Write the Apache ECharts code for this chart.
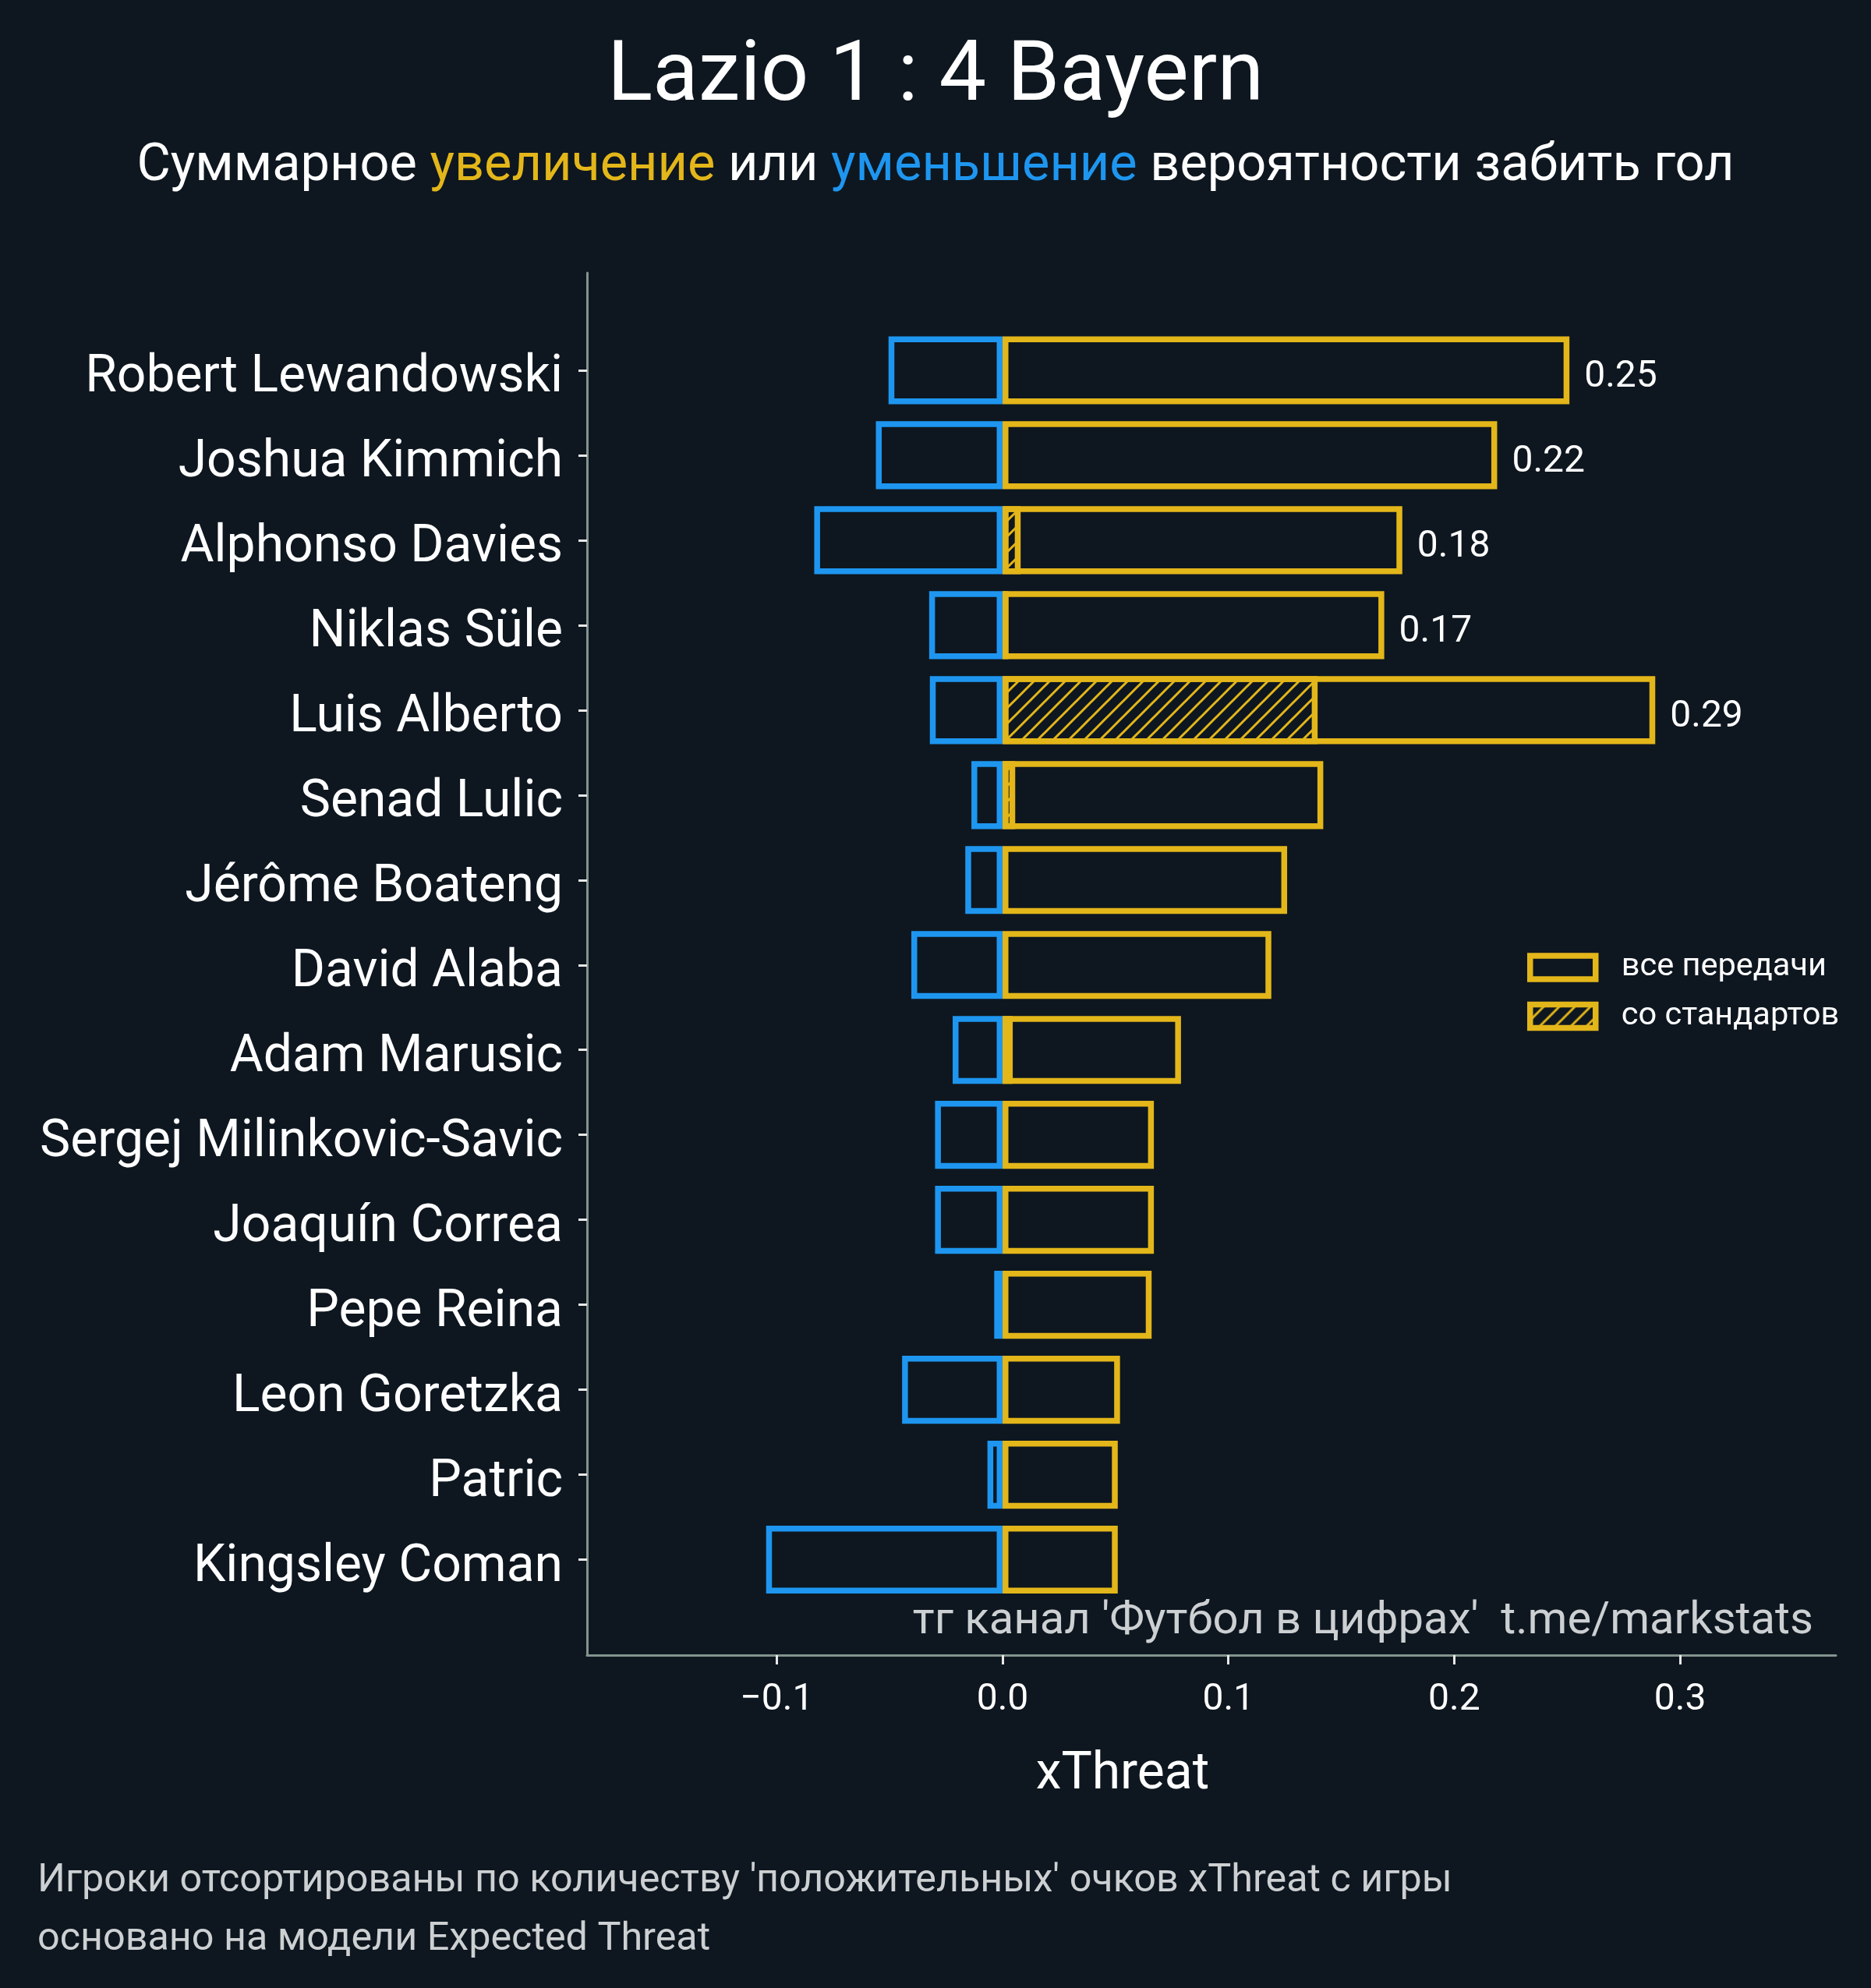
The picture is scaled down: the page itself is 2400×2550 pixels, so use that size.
<!DOCTYPE html>
<html>
<head>
<meta charset="utf-8">
<script src="https://cdn.jsdelivr.net/npm/echarts@6/dist/echarts.min.js"></script>
<style>
html,body{margin:0;padding:0;background:#0e1720;}
#chart{width:2400px;height:2550px;}
</style>
</head>
<body>
<div id="chart"></div>
<script>
const players = ['Robert Lewandowski','Joshua Kimmich','Alphonso Davies','Niklas Süle','Luis Alberto','Senad Lulic','Jérôme Boateng','David Alaba','Adam Marusic','Sergej Milinkovic-Savic','Joaquín Correa','Pepe Reina','Leon Goretzka','Patric','Kingsley Coman'];
const positiveXT = [0.251,0.219,0.177,0.169,0.289,0.142,0.126,0.119,0.079,0.067,0.067,0.066,0.052,0.051,0.051];
const negativeXT = [-0.0505,-0.0561,-0.0834,-0.0325,-0.0322,-0.0138,-0.0165,-0.0404,-0.0221,-0.0299,-0.0299,-0.0037,-0.0445,-0.0067,-0.1047];
const setPieceXT = [null,null,0.008,0.0026,0.1395,0.0056,null,null,0.0045,null,null,null,null,null,null];
const xTicks = [-0.1,0.0,0.1,0.2,0.3];
const labelThreshold = 0.15;

const BG = '#0e1720', YEL = '#e3b61a', BLUE = '#1e96f0', SPINE = '#82948f', GREY = '#cdd0d2';
const FONT = 'Roboto';

function hatchCanvas(size, lw, color){
  const c = document.createElement('canvas');
  c.width = size; c.height = size;
  const g = c.getContext('2d');
  g.strokeStyle = color; g.lineWidth = lw; g.lineCap = 'square';
  [[0,size,size,0],[-size,size,size,-size],[0,2*size,2*size,0]].forEach(function(l){
    g.beginPath(); g.moveTo(l[0],l[1]); g.lineTo(l[2],l[3]); g.stroke();
  });
  return c;
}
const hatch = hatchCanvas(20, 3, YEL);

const chart = echarts.init(document.getElementById('chart'), null, {renderer:'canvas'});
const xMin = -0.184, xMax = 0.369;

chart.setOption({
  backgroundColor: BG,
  animation: false,
  textStyle: {fontFamily: FONT},
  title: [
    {text:'Lazio 1 : 4 Bayern', left:'center', top:42,
     textStyle:{fontSize:108, color:'#ffffff', fontWeight:'normal', fontFamily:FONT}},
    {text:'Суммарное {y|увеличение} или {b|уменьшение} вероятности забить гол', left:'center', top:176,
     textStyle:{fontSize:66.7, color:'#ffffff', fontWeight:'normal', fontFamily:FONT,
       rich:{y:{color:YEL, fontSize:66.7, fontFamily:FONT}, b:{color:BLUE, fontSize:66.7, fontFamily:FONT}}}},
    {text:"тг канал 'Футбол в цифрах'  t.me/markstats", right:69, top:2046,
     textStyle:{fontSize:58, color:GREY, fontWeight:'normal', fontFamily:FONT}},
    {text:"Игроки отсортированы по количеству 'положительных' очков xThreat с игры\nосновано на модели Expected Threat", left:43, top:2371,
     textStyle:{fontSize:50.3, lineHeight:75, color:GREY, fontWeight:'normal', fontFamily:FONT}}
  ],
  graphic: [
    {type:'text', x:1440, y:2277, style:{text:'xThreat', fill:'#ffffff', font:'66px Roboto', align:'center', verticalAlign:'middle'}}
  ],
  legend: {
    data:['все передачи','со стандартов'],
    orient:'vertical', left:1959, top:1220, padding:0,
    itemWidth:84, itemHeight:30, itemGap:20.6,
    icon:'rect',
    itemStyle:{borderWidth:7.5, borderColor:YEL},
    textStyle:{color:'#ffffff', fontSize:41.5, fontFamily:FONT, lineHeight:42, padding:[0,0,0,28]}
  },
  grid: [
    {left:753, right:45, top:420.5, bottom:495, outerBoundsMode:'none'},
    {left:753, right:45, top:350, bottom:427, outerBoundsMode:'none'}
  ],
  xAxis: [
    {gridIndex:0, type:'value', min:xMin, max:xMax, show:false},
    {gridIndex:1, type:'value', min:xMin, max:xMax,
     axisLine:{show:true, onZero:false, lineStyle:{color:SPINE, width:3}},
     axisTick:{show:true, length:12, customValues:xTicks, lineStyle:{color:'#e8e8e8', width:3}},
     axisLabel:{show:true, customValues:xTicks, margin:34, fontSize:48, color:'#ffffff', fontFamily:FONT,
       formatter:function(v){ return (v < 0 ? '\u2212' : '') + Math.abs(v).toFixed(1); }},
     splitLine:{show:false}}
  ],
  yAxis: [
    {gridIndex:0, type:'category', data:players, inverse:true,
     axisLine:{show:false, onZero:false},
     axisTick:{show:true, alignWithLabel:true, length:11, lineStyle:{color:'#e8e8e8', width:3}},
     axisLabel:{margin:31, fontSize:66, color:'#ffffff', fontFamily:FONT, verticalAlign:'top', lineHeight:22},
     splitLine:{show:false}},
    {gridIndex:1, type:'value', min:0, max:1,
     axisLine:{show:true, onZero:false, lineStyle:{color:SPINE, width:3}},
     axisTick:{show:false}, axisLabel:{show:false}, splitLine:{show:false}}
  ],
  series: [
    {name:'уменьшение', type:'bar', xAxisIndex:0, yAxisIndex:0, data:negativeXT,
     barWidth:'80%', barGap:'-100%',
     itemStyle:{color:'rgba(0,0,0,0)', borderColor:BLUE, borderWidth:7.5}},
    {name:'все передачи', type:'bar', xAxisIndex:0, yAxisIndex:0, data:positiveXT,
     barWidth:'80%', barGap:'-100%',
     itemStyle:{color:'rgba(0,0,0,0)', borderColor:YEL, borderWidth:7.5},
     label:{show:true, position:'right', distance:19, offset:[0,9], fontSize:48, color:'#ffffff', fontFamily:FONT,
       formatter:function(p){ return p.value > labelThreshold ? p.value.toFixed(2) : ''; }}},
    {name:'со стандартов', type:'bar', xAxisIndex:0, yAxisIndex:0, data:setPieceXT,
     barWidth:'80%', barGap:'-100%',
     itemStyle:{color:{image:hatch, repeat:'repeat'}, borderColor:YEL, borderWidth:7.5}}
  ]
});
</script>
</body>
</html>
